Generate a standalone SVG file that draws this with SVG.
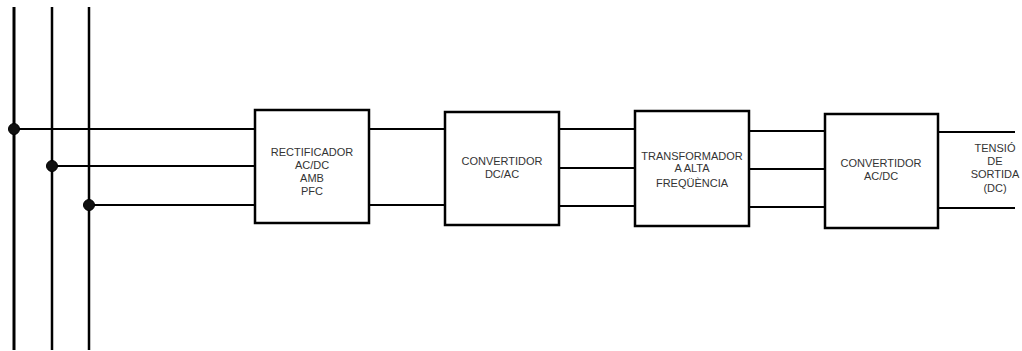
<svg xmlns="http://www.w3.org/2000/svg" width="1022" height="351" viewBox="0 0 1022 351">
<style>
.box{fill:#fff;stroke:#000;stroke-width:2.5}
.w{stroke:#000;stroke-width:2;fill:none}
.bus{stroke:#000;stroke-width:3;fill:none}
.dot{fill:#111;stroke:#000;stroke-width:1}
text{font-family:"Liberation Sans",Arial,sans-serif;font-size:11px;fill:#333;text-anchor:middle}
</style>
<rect width="1022" height="351" fill="#fff"/>
<g id="connectors">
<line class="bus" x1="14" y1="7" x2="14" y2="350"/>
<line class="bus" x1="52" y1="7" x2="52" y2="350" style="stroke-width:2.5"/>
<line class="bus" x1="89" y1="7" x2="89" y2="350" style="stroke-width:2.5"/>
<line class="w" x1="14" y1="129" x2="256" y2="129"/>
<line class="w" x1="52" y1="166" x2="256" y2="166"/>
<line class="w" x1="89" y1="205" x2="256" y2="205"/>
<line class="w" x1="369" y1="129" x2="445" y2="129"/>
<line class="w" x1="369" y1="205" x2="445" y2="205"/>
<line class="w" x1="559" y1="129" x2="635" y2="129"/>
<line class="w" x1="559" y1="168" x2="635" y2="168"/>
<line class="w" x1="559" y1="206" x2="635" y2="206"/>
<line class="w" x1="749" y1="131" x2="825" y2="131"/>
<line class="w" x1="749" y1="169" x2="825" y2="169"/>
<line class="w" x1="749" y1="207" x2="825" y2="207"/>
<line class="w" x1="938" y1="132" x2="1015" y2="132"/>
<line class="w" x1="938" y1="208" x2="1015" y2="208"/>
<circle class="dot" cx="14" cy="129" r="5.5"/>
<circle class="dot" cx="52" cy="166" r="5.5"/>
<circle class="dot" cx="89" cy="205" r="5.5"/>
</g>
<g id="rectificador">
<rect class="box" x="255" y="110" width="114" height="113"/>
<text x="312" y="156">RECTIFICADOR</text>
<text x="312" y="169">AC/DC</text>
<text x="312" y="182">AMB</text>
<text x="312" y="195">PFC</text>
</g>
<g id="convertidor-dcac">
<rect class="box" x="445" y="112" width="114" height="113"/>
<text x="502" y="165">CONVERTIDOR</text>
<text x="502" y="178">DC/AC</text>
</g>
<g id="transformador">
<rect class="box" x="635" y="111" width="114" height="115"/>
<text x="692" y="160">TRANSFORMADOR</text>
<text x="692" y="172">A ALTA</text>
<text x="692" y="187">FREQÜÈNCIA</text>
</g>
<g id="convertidor-acdc">
<rect class="box" x="825" y="114" width="113" height="114"/>
<text x="881" y="167">CONVERTIDOR</text>
<text x="881" y="180">AC/DC</text>
</g>
<g id="sortida">
<text x="995" y="152">TENSIÓ</text>
<text x="995" y="165">DE</text>
<text x="995" y="178">SORTIDA</text>
<text x="995" y="192">(DC)</text>
</g>
</svg>
